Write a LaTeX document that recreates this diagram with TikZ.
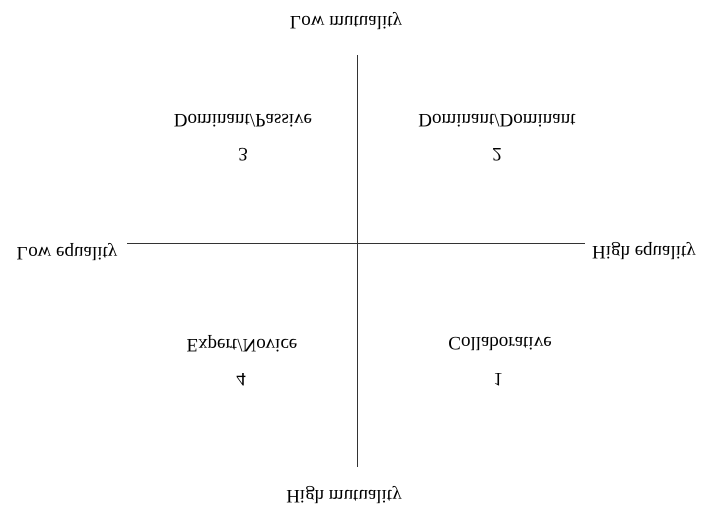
\documentclass[tikz,border=0pt]{standalone}
\usepackage{fontspec}
\setmainfont{Liberation Serif}
\usepackage{tikz}
\usetikzlibrary{positioning}
\definecolor{axisRule}{HTML}{333333}

\begin{document}
\begin{tikzpicture}[
  x=0.025cm,y=-0.025cm,
  font=\fontsize{13.5}{16}\selectfont,
  lbl/.style={inner sep=1pt,yscale=-1},
  axis/.style={draw=axisRule,line width=0.6pt}
]
\useasboundingbox (0,0) rectangle (701,506);

% Axis ends
\coordinate (top)   at (357,55);
\coordinate (bot)   at (357,467);
\coordinate (left)  at (127,243);
\coordinate (right) at (585,243);

\draw[axis] (top) -- (bot);
\draw[axis] (left) -- (right);

% Axis labels
\node[lbl] (lowmut)  at (346,21)  {Low mutuality};
\node[lbl] (highmut) at (344,495) {High mutuality};
\node[lbl] (loweq)   at (67,252)  {Low equality};
\node[lbl] (higheq)  at (644,251) {High equality};

% Quadrants
\node[lbl] (q3) at (243,121) {Dominant/Passive};
\node[lbl] (n3) at (243,155) {3};
\node[lbl] (q2) at (497,121) {Dominant/Dominant};
\node[lbl] (n2) at (497,155) {2};
\node[lbl] (q4) at (242,344) {Expert/Novice};
\node[lbl] (n4) at (241,380) {4};
\node[lbl] (q1) at (500,344) {Collaborative};
\node[lbl] (n1) at (498,380) {1};
\end{tikzpicture}
\end{document}
